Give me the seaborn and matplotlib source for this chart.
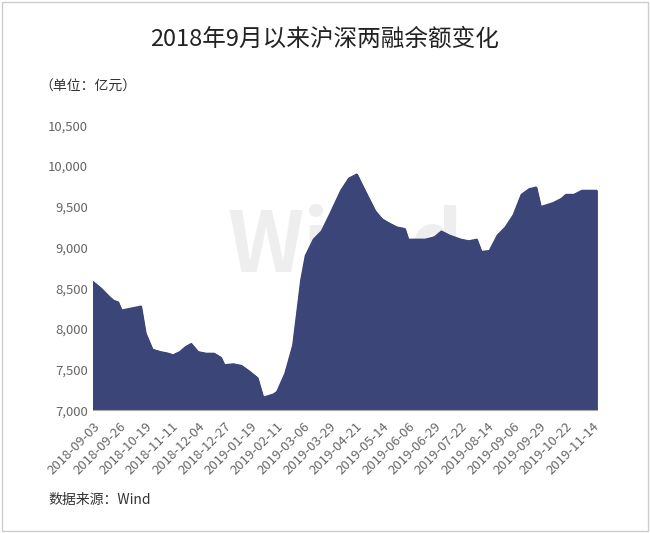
import pandas as pd
import matplotlib.pyplot as plt
import matplotlib.dates as mdates
import seaborn as sns

dates = ["2018-09-03", "2018-09-10", "2018-09-17", "2018-09-21", "2018-09-25", "2018-09-28",
         "2018-10-12", "2018-10-15", "2018-10-19", "2018-10-25", "2018-11-01", "2018-11-08",
         "2018-11-12", "2018-11-18", "2018-11-23", "2018-11-28", "2018-12-04", "2018-12-11",
         "2018-12-18", "2018-12-24", "2018-12-27", "2019-01-04", "2019-01-11", "2019-01-18",
         "2019-01-25", "2019-01-30", "2019-02-08", "2019-02-11", "2019-02-18", "2019-02-25",
         "2019-03-04", "2019-03-08", "2019-03-15", "2019-03-22", "2019-03-29", "2019-04-08",
         "2019-04-15", "2019-04-22", "2019-04-29", "2019-05-08", "2019-05-14", "2019-05-20",
         "2019-05-27", "2019-06-03", "2019-06-06", "2019-06-14", "2019-06-21", "2019-06-29",
         "2019-07-05", "2019-07-12", "2019-07-22", "2019-07-29", "2019-08-05", "2019-08-09",
         "2019-08-16", "2019-08-23", "2019-08-30", "2019-09-06", "2019-09-13", "2019-09-20",
         "2019-09-26", "2019-09-30", "2019-10-11", "2019-10-18", "2019-10-22", "2019-10-29",
         "2019-11-05", "2019-11-12", "2019-11-18"]
balance = [8580, 8500, 8400, 8350, 8330, 8230,
           8270, 8280, 7950, 7750, 7720, 7700,
           7680, 7720, 7780, 7820, 7720, 7700,
           7700, 7650, 7560, 7570, 7550, 7480,
           7400, 7160, 7200, 7230, 7450, 7800,
           8600, 8900, 9100, 9200, 9400, 9700,
           9850, 9900, 9700, 9450, 9350, 9300,
           9250, 9230, 9100, 9100, 9100, 9130,
           9200, 9150, 9100, 9080, 9100, 8950,
           8960, 9150, 9250, 9400, 9650, 9720,
           9740, 9500, 9550, 9600, 9650, 9650,
           9700, 9700, 9700]
tick_dates = pd.date_range("2018-09-03", periods=20, freq="23D")

sns.set_style("white")
plt.rcParams['font.family'] = ['Noto Sans CJK SC', 'DejaVu Sans']

df = pd.DataFrame({"date": pd.to_datetime(dates), "balance": balance})
color = "#3b4577"

fig = plt.figure(figsize=(6.5, 5.33), dpi=100)
ax = fig.add_axes([0.143, 0.23, 0.775, 0.535])
ax.text(0.5, 0.57, "Win.d", transform=ax.transAxes, fontsize=60, fontweight="bold",
        color="#e4e4e4", alpha=0.6, ha="center", va="center", zorder=0)
sns.lineplot(data=df, x="date", y="balance", color=color, linewidth=1, ax=ax, zorder=2)
ax.fill_between(df["date"], df["balance"], 7000, color=color, zorder=2)

ax.set_ylim(7000, 10500)
ax.set_xlim(df["date"].iloc[0], df["date"].iloc[-1])
ax.set_yticks(range(7000, 10501, 500))
ax.yaxis.set_major_formatter(plt.FuncFormatter(lambda v, p: f"{int(v):,}"))
ax.set_xticks(tick_dates)
ax.xaxis.set_major_formatter(mdates.DateFormatter("%Y-%m-%d"))
plt.setp(ax.get_xticklabels(), rotation=45, ha="right", rotation_mode="anchor")
ax.tick_params(labelsize=9.5, colors="#666666", length=0)
ax.tick_params(axis="x", length=3, color="#aaaaaa")
ax.set_xlabel("")
ax.set_ylabel("")
for s in ["top", "right", "left"]:
    ax.spines[s].set_visible(False)
ax.spines["bottom"].set_color("#aaaaaa")

fig.text(0.5, 0.915, "2018年9月以来沪深两融余额变化", fontsize=17, ha="center", color="#222222")
fig.text(0.06, 0.83, "（单位：亿元）", fontsize=10, color="#333333")
fig.text(0.075, 0.055, "数据来源：Wind", fontsize=10, color="#333333")
fig.patches.append(plt.Rectangle((0.003, 0.003), 0.994, 0.994, transform=fig.transFigure,
                                 fill=False, edgecolor="#cccccc", linewidth=1))

fig.savefig("out.png", dpi=100)
